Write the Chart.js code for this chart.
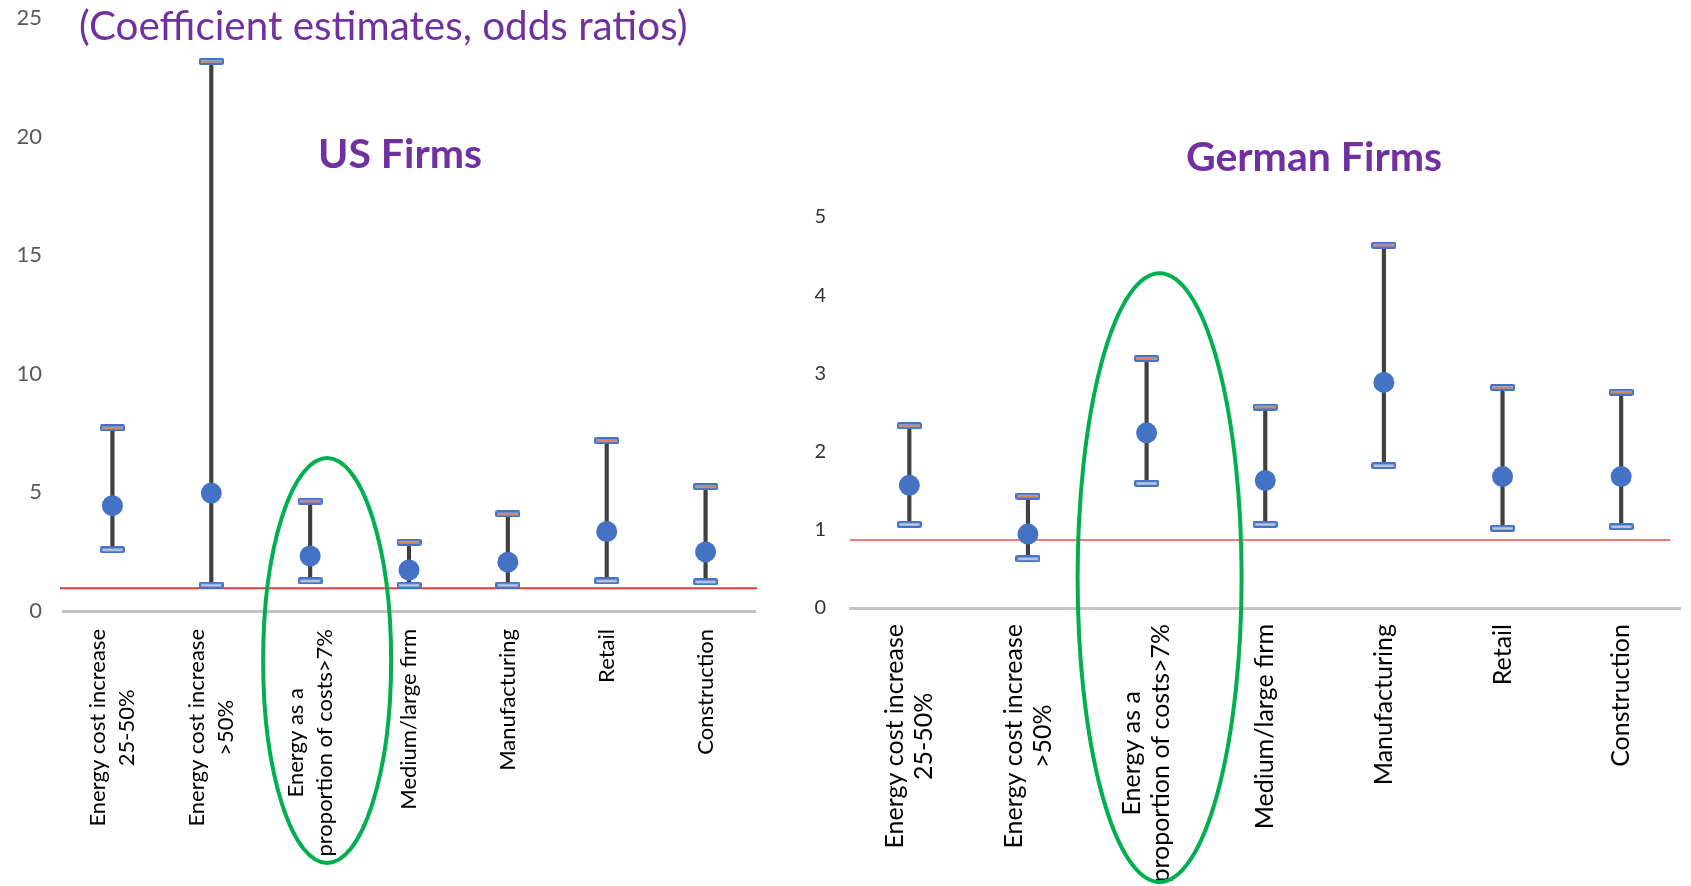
<!DOCTYPE html>
<html>
<head>
<meta charset="utf-8">
<title>Odds ratios: US and German firms</title>
<script src="https://cdn.jsdelivr.net/npm/chart.js@4.4.1/dist/chart.umd.min.js"></script>
<style>
  body { margin: 0; background: #fff; width: 1691px; height: 886px; overflow: hidden; position: relative; font-family: Lato, sans-serif; }
  #usWrap { position: absolute; left: 0; top: 0; width: 770px; height: 886px; }
  #deWrap { position: absolute; left: 780px; top: 0; width: 911px; height: 886px; }
  canvas { display: block; }
  .title { position: absolute; color: #7030A0; white-space: nowrap; line-height: 1; }
  #subtitle { left: 79px; top: 5px; font-size: 40.4px; }
  #usTitle, #deTitle { font-weight: bold; font-size: 41px; transform: translate(-50%, -50%); }
  #usTitle { left: 400px; top: 152px; }
  #deTitle { left: 1314px; top: 155px; }
</style>
</head>
<body>
<div id="usWrap"><canvas id="usChart" width="770" height="886"></canvas></div>
<div id="deWrap"><canvas id="deChart" width="911" height="886"></canvas></div>
<div class="title" id="subtitle">(Coefficient estimates, odds ratios)</div>
<div class="title" id="usTitle">US Firms</div>
<div class="title" id="deTitle">German Firms</div>

<script>
// categories shared by both panels
const categories = [
  ['Energy cost increase', '25-50%'],
  ['Energy cost increase', '>50%'],
  ['Energy as a', 'proportion of costs>7%'],
  'Medium/large firm',
  'Manufacturing',
  'Retail',
  'Construction'
];

// US firms: odds ratio and interval bounds
const usEstimate = [4.44, 4.97, 2.32, 1.73, 2.06, 3.35, 2.49];
const usUpper    = [7.72, 23.17, 4.63, 2.90, 4.09, 7.18, 5.24];
const usLower    = [2.58, 1.09, 1.27, 1.09, 1.09, 1.27, 1.23];
const usTicks    = [0, 5, 10, 15, 20, 25];
const usRefLine  = 0.96;

// German firms
const deEstimate = [1.57, 0.945, 2.24, 1.63, 2.885, 1.68, 1.68];
const deUpper    = [2.33, 1.43, 3.19, 2.57, 4.64, 2.82, 2.76];
const deLower    = [1.07, 0.63, 1.595, 1.07, 1.82, 1.02, 1.04];
const deTicks    = [0, 1, 2, 3, 4, 5];
const deRefLine  = 0.87;

// little dash marker for the interval ends
function makeCap(stripe) {
  const c = document.createElement('canvas');
  c.width = 25; c.height = 7;
  const g = c.getContext('2d');
  g.fillStyle = '#4472C4';
  g.beginPath();
  g.roundRect(0, 0, 25, 7, 2);
  g.fill();
  g.fillStyle = '#8FAADC';
  g.fillRect(2, 2, 21, 3);
  g.fillStyle = stripe;
  g.fillRect(3, 3, 19, 1.5);
  return c;
}
const capHigh = makeCap('#ED7D31');
const capLow = makeCap('#C9CED8');

// horizontal reference line behind the markers
const refLine = {
  id: 'refLine',
  beforeDatasetsDraw(chart, args, opts) {
    const { ctx, chartArea, scales: { y } } = chart;
    const py = y.getPixelForValue(opts.value);
    ctx.save();
    ctx.strokeStyle = opts.color;
    ctx.lineWidth = 2;
    ctx.beginPath();
    ctx.moveTo(chartArea.left - opts.extendLeft, py);
    ctx.lineTo(chartArea.right - opts.trimRight, py);
    ctx.stroke();
    ctx.restore();
  }
};

// vertical category labels, lines centred on each other like the slide
const categoryLabels = {
  id: 'categoryLabels',
  afterDraw(chart, args, opts) {
    const { ctx, scales: { x } } = chart;
    ctx.save();
    ctx.font = opts.font;
    ctx.fillStyle = opts.color;
    ctx.textAlign = 'center';
    ctx.textBaseline = 'middle';
    categories.forEach((label, i) => {
      const lines = [].concat(label);
      const widest = Math.max(...lines.map(l => ctx.measureText(l).width));
      const px = x.getPixelForTick(i);
      const cy = x.top + opts.gap + widest / 2;
      lines.forEach((line, j) => {
        ctx.save();
        ctx.translate(px + (j - (lines.length - 1) / 2) * opts.lineHeight, cy);
        ctx.rotate(-Math.PI / 2);
        ctx.fillText(line, 0, 0);
        ctx.restore();
      });
    });
    ctx.restore();
  }
};

// green ring around the energy-share category
const ring = {
  id: 'ring',
  afterDraw(chart, args, opts) {
    const { ctx, scales: { x, y } } = chart;
    const cx = x.getPixelForTick(opts.index) + opts.dx;
    const top = y.getPixelForValue(opts.top);
    const bottom = chart.height - opts.bottomGap;
    ctx.save();
    ctx.strokeStyle = '#00B050';
    ctx.lineWidth = 4;
    ctx.beginPath();
    ctx.ellipse(cx, (top + bottom) / 2, opts.rx, (bottom - top) / 2, 0, 0, Math.PI * 2);
    ctx.stroke();
    ctx.restore();
  }
};

function buildChart(id, est, upper, lower, ticks, s) {
  return new Chart(document.getElementById(id), {
    type: 'bar',
    data: {
      labels: categories,
      datasets: [
        {
          type: 'line', data: est, showLine: false, order: 1,
          pointRadius: 10.5, pointBackgroundColor: '#4472C4', pointBorderWidth: 0
        },
        {
          type: 'line', data: upper, showLine: false, order: 2,
          pointStyle: capHigh, pointRadius: 5
        },
        {
          type: 'line', data: lower, showLine: false, order: 2,
          pointStyle: capLow, pointRadius: 5
        },
        {
          data: lower.map((l, i) => [l, upper[i]]), order: 3,
          backgroundColor: '#404040', barThickness: 3.5
        }
      ]
    },
    options: {
      responsive: false,
      animation: false,
      layout: { padding: { top: s.top, right: s.right, left: 0, bottom: 0 } },
      plugins: {
        legend: { display: false },
        tooltip: { enabled: false },
        refLine: { value: s.ref, color: s.refColor, extendLeft: s.refLeft, trimRight: s.refTrim },
        categoryLabels: { font: s.labelFont, color: '#000', gap: s.labelGap, lineHeight: 29 },
        ring: s.ring
      },
      scales: {
        x: {
          offset: true,
          grid: { display: false, drawTicks: false },
          border: { display: true, color: '#C3C3C3', width: 3 },
          ticks: { display: false },
          afterFit(scale) {
            scale.height = s.xHeight;
            scale.paddingLeft = 0;
            scale.paddingRight = 0;
          }
        },
        y: {
          min: ticks[0],
          max: ticks[ticks.length - 1],
          grid: { display: false, drawTicks: false },
          border: { display: false },
          afterBuildTicks(scale) { scale.ticks = ticks.map(v => ({ value: v })); },
          ticks: { padding: s.tickPad, color: s.tickColor, font: { family: 'Lato', size: s.tickSize } },
          afterFit(scale) {
            // keep the plot box where the layout padding puts it
            scale.width = s.yWidth;
            scale.paddingTop = 0;
            scale.paddingBottom = 0;
          }
        }
      }
    },
    plugins: [refLine, categoryLabels, ring]
  });
}

buildChart('usChart', usEstimate, usUpper, usLower, usTicks, {
  top: 18, right: 15, xHeight: 275, yWidth: 63, tickPad: 21,
  tickColor: '#595959', tickSize: 22,
  ref: usRefLine, refColor: '#E03C3C', refLeft: 3, refTrim: -2,
  labelFont: '22px Lato', labelGap: 18,
  ring: { index: 2, dx: 17, top: 6.45, bottomGap: 23, rx: 64 }
});

buildChart('deChart', deEstimate, deUpper, deLower, deTicks, {
  top: 217, right: 3, xHeight: 278, yWidth: 70, tickPad: 24,
  tickColor: '#333333', tickSize: 20,
  ref: deRefLine, refColor: '#F07A7A', refLeft: 0, refTrim: 10,
  labelFont: '25px Lato', labelGap: 16,
  ring: { index: 2, dx: 13, top: 4.28, bottomGap: 4, rx: 82 }
});
</script>
</body>
</html>
